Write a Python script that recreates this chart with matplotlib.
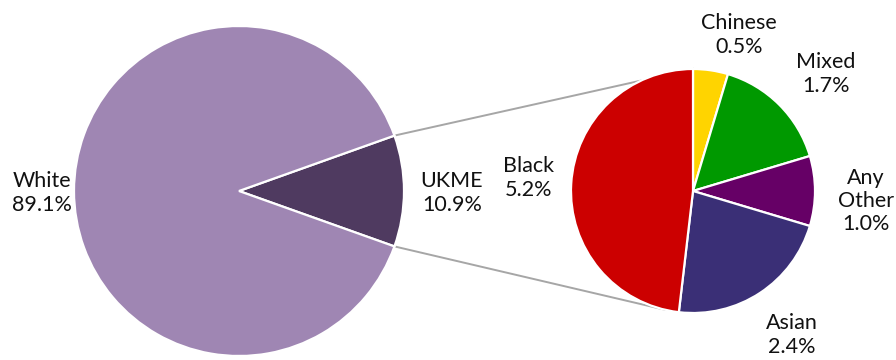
import numpy as np
import matplotlib
matplotlib.use("Agg")
import matplotlib.pyplot as plt

plt.rcParams['font.family'] = ['Lato', 'DejaVu Sans']

# main split
main_labels = ["UKME", "White"]
main_values = [10.9, 89.1]
main_colors = ["#4f3a60", "#9f86b3"]

# breakdown of the UKME slice
sub_labels = ["Chinese", "Mixed", "Any\nOther", "Asian", "Black"]
sub_values = [0.5, 1.7, 1.0, 2.4, 5.2]
sub_colors = ["#ffd400", "#009900", "#660066", "#3a2f76", "#cc0000"]

W, H = 896, 360
fig = plt.figure(figsize=(W / 100, H / 100), dpi=100)
ax = fig.add_axes([0, 0, 1, 1])

def py(y):
    # pixel row -> data y
    return H - y

big_c = (239, py(191))
big_r = 165
small_c = (693, py(191))
small_r = 122

ukme_span = main_values[0] / sum(main_values) * 360
start = -ukme_span / 2

wp = dict(edgecolor="white", linewidth=1.6)
ax.pie(main_values, colors=main_colors, startangle=start, counterclock=True,
       center=big_c, radius=big_r, wedgeprops=wp, frame=False)
ax.pie(sub_values, colors=sub_colors, startangle=90, counterclock=False,
       center=small_c, radius=small_r, wedgeprops=wp, frame=False)

# connector lines from the UKME slice to the breakdown pie
a = np.radians(ukme_span / 2)
top_from = (big_c[0] + big_r * np.cos(a), big_c[1] + big_r * np.sin(a))
bot_from = (big_c[0] + big_r * np.cos(-a), big_c[1] + big_r * np.sin(-a))
top_to = (small_c[0], small_c[1] + small_r)
b = np.radians(-103)
bot_to = (small_c[0] + small_r * np.cos(b), small_c[1] + small_r * np.sin(b))
for p0, p1 in [(top_from, top_to), (bot_from, bot_to)]:
    ax.plot([p0[0], p1[0]], [p0[1], p1[1]], color="#a6a6a6", lw=1.4, zorder=0)

# data labels
label_pos = {
    "White": (42, 193),
    "UKME": (452, 193),
    "Black": (529, 178),
    "Chinese": (739, 35),
    "Mixed": (826, 74),
    "Any\nOther": (866, 201),
    "Asian": (792, 335),
}
for name, val in zip(main_labels + sub_labels, main_values + sub_values):
    x, y = label_pos[name]
    ax.text(x, py(y), f"{name}\n{val:.1f}%", ha="center", va="center",
            multialignment="center", fontsize=15.5, linespacing=1.2,
            color="#111111")

ax.set_xlim(0, W)
ax.set_ylim(0, H)
ax.set_aspect("equal")
ax.axis("off")

fig.savefig("out.png", dpi=100)
